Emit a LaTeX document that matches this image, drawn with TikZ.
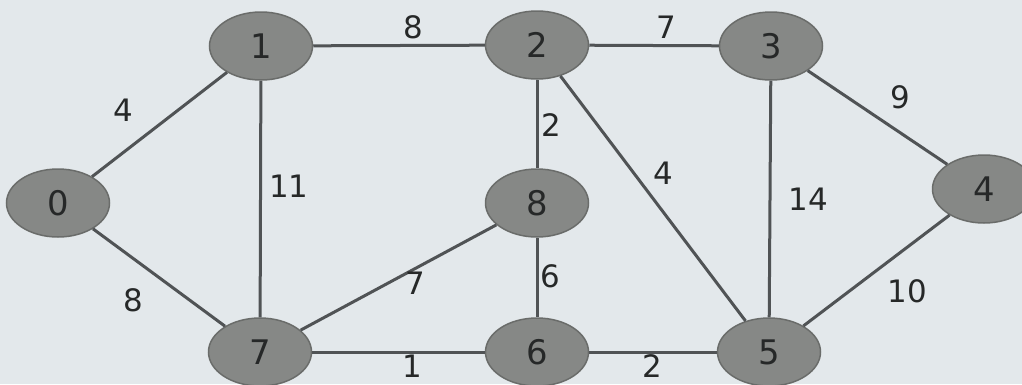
\documentclass[tikz,border=0pt]{standalone}
\usepackage{fontspec}
\setmainfont{DejaVu Sans}
\usetikzlibrary{shapes.geometric}
\definecolor{bg}{HTML}{E3E8EB}
\definecolor{nodefill}{HTML}{868886}
\definecolor{nodeedge}{HTML}{6A6C6A}
\definecolor{edgecol}{HTML}{505355}
\definecolor{txt}{HTML}{262828}
\tikzset{
  vert/.style={ellipse, fill=nodefill, draw=nodeedge, line width=1.5bp,
    minimum width=103bp, minimum height=68bp, inner sep=0pt,
    text=txt, font=\fontsize{34}{34}\selectfont},
  edge/.style={draw=edgecol, line width=3bp},
  wt/.style={text=txt, font=\fontsize{31}{31}\selectfont, inner sep=0pt}
}
\begin{document}
\begin{tikzpicture}[x=1bp,y=-1bp]
\fill[bg] (0,0) rectangle (1022,384);
\useasboundingbox (0,0) rectangle (1022,384);
\node[vert] (n0) at (58,203) {0};
\node[vert] (n1) at (261,46) {1};
\node[vert] (n2) at (537,45) {2};
\node[vert] (n3) at (771,46) {3};
\node[vert] (n4) at (984,189) {4};
\node[vert] (n5) at (769,352) {5};
\node[vert] (n6) at (537,352) {6};
\node[vert] (n7) at (260,352) {7};
\node[vert] (n8) at (537,203) {8};
\draw[edge] (n0) -- (n1);
\draw[edge] (n0) -- (n7);
\draw[edge] (n1) -- (n2);
\draw[edge] (n1) -- (n7);
\draw[edge] (n2) -- (n3);
\draw[edge] (n2) -- (n8);
\draw[edge] (n2) -- (n5);
\draw[edge] (n3) -- (n4);
\draw[edge] (n3) -- (n5);
\draw[edge] (n4) -- (n5);
\draw[edge] (n8) -- (n7);
\draw[edge] (n8) -- (n6);
\draw[edge] (n7) -- (n6);
\draw[edge] (n6) -- (n5);
\node[wt] (w01) at (123,110) {4};
\node[wt] (w07) at (133,300) {8};
\node[wt] (w17) at (289,186) {11};
\node[wt] (w12) at (413,27) {8};
\node[wt] (w23) at (666,27) {7};
\node[wt] (w28) at (551,125) {2};
\node[wt] (w25) at (663,173) {4};
\node[wt] (w87) at (415,283) {7};
\node[wt] (w86) at (550,276) {6};
\node[wt] (w76) at (412,366) {1};
\node[wt] (w65) at (652,366) {2};
\node[wt] (w34) at (900,97) {9};
\node[wt] (w35) at (808,199) {14};
\node[wt] (w45) at (907,291) {10};
\end{tikzpicture}
\end{document}
